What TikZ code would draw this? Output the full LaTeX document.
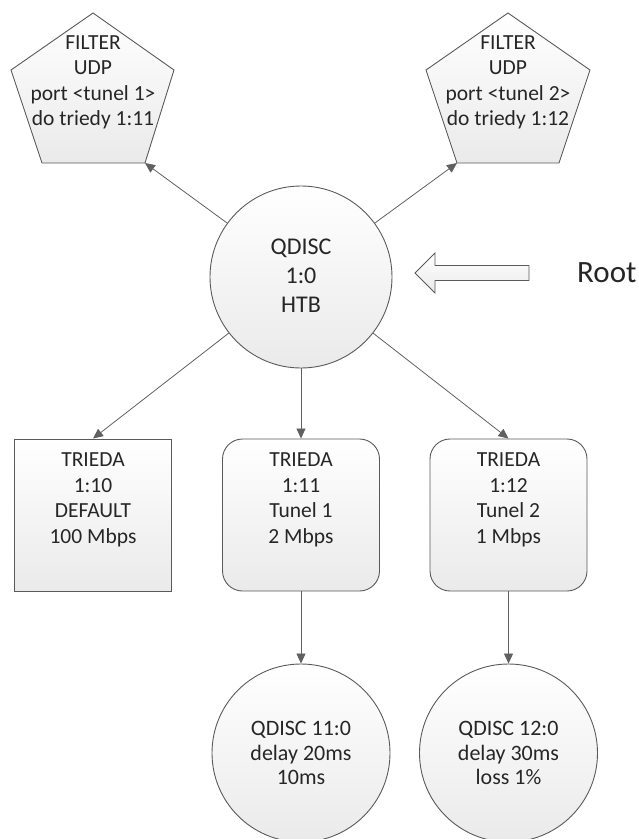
\documentclass[tikz,border=0pt]{standalone}
\usepackage{fontspec}
\setmainfont{Carlito}
\usetikzlibrary{arrows.meta}
\definecolor{edgec}{HTML}{5A5A5A}
\definecolor{linec}{HTML}{606060}
\definecolor{txtc}{HTML}{262626}
\definecolor{fillbot}{HTML}{EAEAEA}
\tikzset{
  shp/.style={draw=edgec, line width=0.9pt, top color=white, bottom color=fillbot},
  txt/.style={align=center, text=txtc, inner sep=0pt, font=\fontsize{21.5}{25.5}\selectfont},
  bigtxt/.style={align=center, text=txtc, inner sep=0pt, font=\fontsize{24}{29}\selectfont},
  roundbox/.style={shp, rectangle, rounded corners=20pt, minimum width=157pt, minimum height=152pt, inner sep=0pt},
  sqbox/.style={shp, rectangle, minimum width=157pt, minimum height=152pt, inner sep=0pt},
  bigcirc/.style={shp, circle, minimum size=182pt, inner sep=0pt},
  conn/.style={draw=linec, line width=0.8pt, -{Triangle[length=10pt,width=9pt]}}
}
\begin{document}
\begin{tikzpicture}[x=1pt,y=-1pt]
\useasboundingbox (0,0) rectangle (638,839);
% pentagons
\draw[shp] (93,13) -- (174,70) -- (145,163) -- (42,163) -- (11,70) -- cycle;
\coordinate (f1br) at (145,163);
\node[txt] (f1t) at (93,82.5) {FILTER\\UDP\\port <tunel 1>\\do triedy 1:11};
\draw[shp] (508,13) -- (590,70) -- (559,163) -- (457,163) -- (426,70) -- cycle;
\coordinate (f2bl) at (457,163);
\node[txt] (f2t) at (508,82.5) {FILTER\\UDP\\port <tunel 2>\\do triedy 1:12};
% root qdisc
\node[bigcirc] (q0) at (301,277) {};
\node[bigtxt] (q0t) at (301,276) {QDISC\\1:0\\HTB};
% root arrow
\draw[shp, line width=0.8pt] (415,273) -- (435,253) -- (435,265.5) -- (529,265.5) -- (529,280.5) -- (435,280.5) -- (435,293) -- cycle;
\node[text=txtc, inner sep=0pt, font=\fontsize{31}{36}\selectfont, anchor=west] (root) at (577,273) {Root};
% classes
\node[sqbox] (c10) at (93,515) {};
\node[txt] (c10t) at (93,500) {TRIEDA\\1:10\\DEFAULT\\100 Mbps};
\node[roundbox] (c11) at (301,515) {};
\node[txt] (c11t) at (301,500) {TRIEDA\\1:11\\Tunel 1\\2 Mbps};
\node[roundbox] (c12) at (508.5,515) {};
\node[txt] (c12t) at (508.5,500) {TRIEDA\\1:12\\Tunel 2\\1 Mbps};
% leaf qdiscs
\node[bigcirc, minimum size=178pt] (q11) at (301,753) {};
\node[txt, font=\fontsize{22}{24.5}\selectfont] (q11t) at (301,753) {QDISC 11:0\\delay 20ms\\10ms};
\node[bigcirc, minimum size=178pt] (q12) at (508.5,753) {};
\node[txt, font=\fontsize{22}{24.5}\selectfont] (q12t) at (508.5,753) {QDISC 12:0\\delay 30ms\\loss 1\%};
% connectors
\draw[conn] (q0) -- (f1br);
\draw[conn] (q0) -- (f2bl);
\draw[conn] (q0) -- (c10.north);
\draw[conn] (q0) -- (c11.north);
\draw[conn] (q0) -- (c12.north);
\draw[conn] (c11.south) -- (q11.north);
\draw[conn] (c12.south) -- (q12.north);
\end{tikzpicture}
\end{document}
